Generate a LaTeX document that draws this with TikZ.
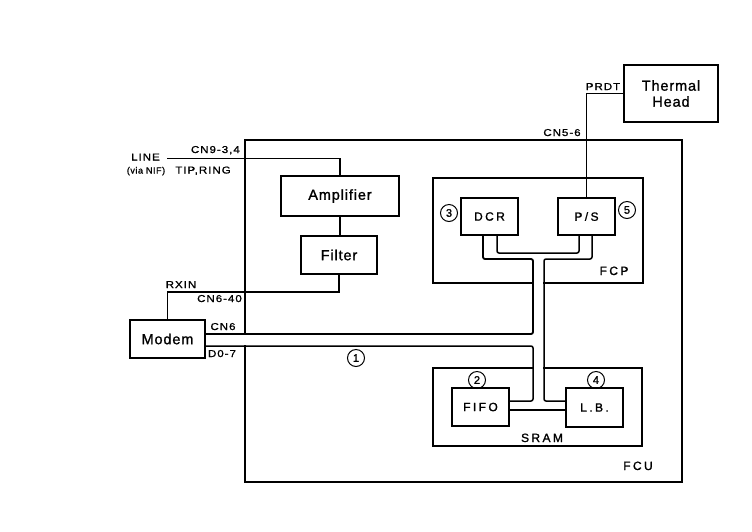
\documentclass[tikz,border=0pt]{standalone}
\usepackage{fontspec}
\setmainfont{Liberation Sans}
\newfontfamily\bigfont[LetterSpace=6,FakeBold=1.2]{Liberation Sans}
\newfontfamily\midfont[LetterSpace=20,FakeBold=1.2]{Liberation Sans}
\newfontfamily\smallfont[LetterSpace=10,FakeStretch=1.15,FakeBold=1.2]{Liberation Sans}
\newfontfamily\tinyfont[LetterSpace=6,FakeBold=1]{Liberation Sans}
\usetikzlibrary{calc}
\begin{document}
\begin{tikzpicture}[x=1pt,y=-1pt,
  box/.style={draw,line width=1.8pt,inner sep=0pt,outer sep=0pt,align=center,
    font=\bigfont\fontsize{14.5}{16}\selectfont},
  boxs/.style={box,font=\midfont\fontsize{12}{14}\selectfont},
  frame/.style={draw,line width=1.8pt,inner sep=0pt,outer sep=0pt},
  sig/.style={line width=1.1pt},
  bus/.style={line width=1.5pt,rounded corners=2pt},
  lbl/.style={font=\smallfont\fontsize{10}{12}\selectfont,inner sep=0pt},
  big/.style={font=\midfont\fontsize{12}{14}\selectfont,inner sep=0pt},
  num/.style={circle,draw,line width=1pt,minimum size=17pt,inner sep=0pt,
    font=\bigfont\fontsize{11}{12}\selectfont}]
\useasboundingbox (0,0) rectangle (752,531);
\fill[white] (0,0) rectangle (752,531);

% frames
\node[frame,minimum width=437,minimum height=342] (fcu) at (463.5,311) {};
\node[frame,minimum width=210,minimum height=105] (fcp) at (538,230.5) {};
\node[frame,minimum width=209,minimum height=78] (sram) at (537.5,407) {};

% boxes
\node[box,minimum width=118,minimum height=40] (ampl) at (340,196) {Amplifier};
\node[box,minimum width=76,minimum height=38] (filt) at (339,255) {Filter};
\node[box,line width=2.4pt,minimum width=75,minimum height=38] (modem) at (167.5,339) {Modem};
\node[box,minimum width=94,minimum height=57] (th) at (671,93.5) {Thermal\\Head};
\node[boxs,minimum width=57,minimum height=37] (dcr) at (489.5,216.5) {DCR};
\node[boxs,minimum width=57,minimum height=37] (ps) at (586.5,216.5) {P/S};
\node[boxs,minimum width=57,minimum height=38] (fifo) at (480.5,407) {FIFO};
\node[boxs,minimum width=57,minimum height=39] (lb) at (594.5,407.5) {L.B.};

% gaps where the bus passes through frames
\fill[white] (534.2,280) rectangle (543.3,286);
\fill[white] (534.2,365) rectangle (543.3,371);
\fill[white] (242,335.2) rectangle (248,344.8);

% bus
\draw[bus,line width=1.8pt] (483,0 |- dcr.south) |- (533,259) -- (533,334) -- (modem.east |- 0,334);
\draw[bus] (497,0 |- dcr.south) |- (579,253) -- (579,0 |- ps.south);
\coordinate (lbin) at (lb.west |- 0,401);
\coordinate (fifoin) at (fifo.east |- 0,401);
\draw[bus] (592,0 |- ps.south) |- (544,259) |- (lbin);
\draw[bus] (modem.east |- 0,346) -- (533,346) |- (fifoin);
\draw[bus] (fifo.east |- 0,410) -- (lb.west |- 0,410);

% signal lines
\coordinate (linein) at (167,158.5);
\draw[sig] (linein) -| (ampl.north);
\draw[sig] (ampl.south) -- (ampl.south |- filt.north);
\draw[sig] (filt.south) |- (modem.north |- 0,292) -- (modem.north);
\draw[sig] (th.west) -| (ps.north);

% labels
\node[lbl,anchor=base east] (cn9) at (240,153) {CN9-3,4};
\node[lbl,anchor=base] (line) at (145.5,160.5) {LINE};
\node[font=\tinyfont\fontsize{9}{11}\selectfont,inner sep=0pt,anchor=base] (via) at (146,173.5) {(via NIF)};
\node[lbl,anchor=base] (tip) at (203,173.5) {TIP,RING};
\node[lbl,anchor=base] (rxin) at (181,288) {RXIN};
\node[lbl,anchor=base east] (cn640) at (242,302) {CN6-40};
\node[lbl,anchor=base] (cn6) at (223,330) {CN6};
\node[lbl,anchor=base] (d07) at (222,357) {D0-7};
\node[lbl,anchor=base] (prdt) at (603,90) {PRDT};
\node[lbl,anchor=base] (cn56) at (562,136) {CN5-6};
\node[big,anchor=base] (fcplbl) at (614,275) {FCP};
\node[big,anchor=base] (sramlbl) at (542,442) {SRAM};
\node[big,anchor=base] (fculbl) at (638,470) {FCU};

% numbered circles
\node[num] (n1) at (356,358) {1};
\node[num] (n2) at (477,380) {2};
\node[num] (n3) at (449,213) {3};
\node[num] (n4) at (596,380) {4};
\node[num] (n5) at (627,210) {5};
\end{tikzpicture}
\end{document}
